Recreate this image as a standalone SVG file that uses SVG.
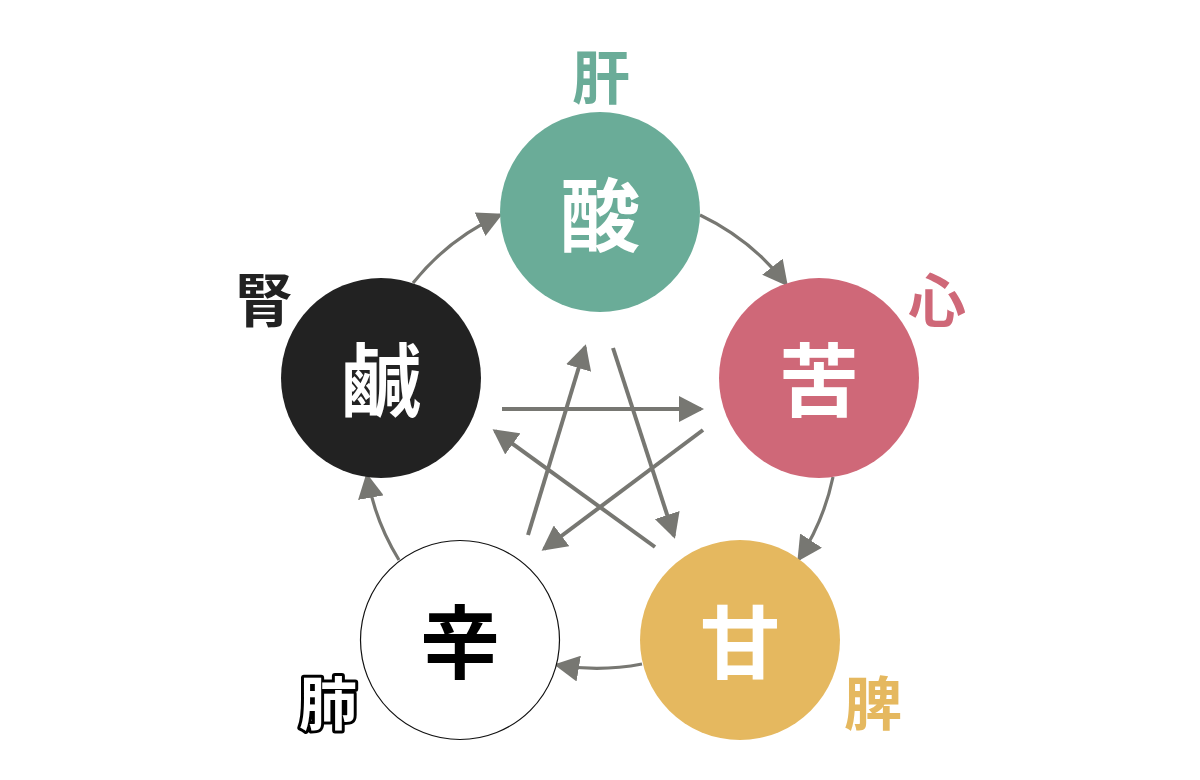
<svg xmlns="http://www.w3.org/2000/svg" width="1200" height="780" viewBox="0 0 1200 780">
  <style>
    .big { font-family: "Noto Sans CJK JP", "Noto Sans CJK SC", sans-serif; font-weight: 700; font-size: 80px; text-anchor: middle; dominant-baseline: central; }
    .lbl { font-family: "Noto Sans CJK JP", "Noto Sans CJK SC", sans-serif; font-weight: 700; font-size: 58px; text-anchor: middle; dominant-baseline: central; }
    .arc { fill: none; stroke: #777772; stroke-width: 3.2; marker-end: url(#ah); }
    .str { fill: none; stroke: #777772; stroke-width: 4; marker-end: url(#ah); }
  </style>
  <defs>
    <marker id="ah" markerUnits="userSpaceOnUse" markerWidth="26" markerHeight="26" viewBox="0 0 26 26" refX="22" refY="13" orient="auto">
      <polygon points="0,0 25,13 0,26" fill="#777772"/>
    </marker>
  </defs>
  <rect width="1200" height="780" fill="#ffffff"/>

  <g id="connectors">
    <path class="arc" d="M700,215 A240,240 0 0 1 786,284"/>
    <path class="arc" d="M833,477 A240,240 0 0 1 799,559"/>
    <path class="arc" d="M642,664 A240,240 0 0 1 557,665"/>
    <path class="arc" d="M399,560 A240,240 0 0 1 367,476"/>
    <path class="arc" d="M413,283 A240,240 0 0 1 500,215"/>
    <path class="str" d="M502,409 L701,409"/>
    <path class="str" d="M613,348 L674,536"/>
    <path class="str" d="M528,535 L585,347"/>
    <path class="str" d="M703,430 L544,549"/>
    <path class="str" d="M655,547 L495,431"/>
  </g>

  <g id="node-sour">
    <circle cx="600" cy="212" r="100" fill="#6aac98"/>
    <text class="big" x="600" y="210" fill="#ffffff">酸</text>
    <text class="lbl" x="601" y="74" fill="#6aac98">肝</text>
  </g>
  <g id="node-bitter">
    <circle cx="819" cy="378" r="100" fill="#cf6878"/>
    <text class="big" x="819" y="375" fill="#ffffff">苦</text>
    <text class="lbl" x="937" y="297" fill="#cf6878">心</text>
  </g>
  <g id="node-sweet">
    <circle cx="740" cy="640" r="100" fill="#e5b85f"/>
    <text class="big" x="740" y="637" fill="#ffffff">甘</text>
    <text class="lbl" x="873" y="700" fill="#e5b85f">脾</text>
  </g>
  <g id="node-pungent">
    <circle cx="460" cy="640" r="99.5" fill="#ffffff" stroke="#111111" stroke-width="1.2"/>
    <text class="big" x="460" y="637" fill="#000000">辛</text>
    <text class="lbl" x="328" y="700" fill="#ffffff" stroke="#000000" stroke-width="6" stroke-linejoin="round" paint-order="stroke">肺</text>
  </g>
  <g id="node-salty">
    <circle cx="381" cy="378" r="100" fill="#222222"/>
    <text class="big" x="381" y="375" fill="#ffffff">鹹</text>
    <text class="lbl" x="264" y="297" fill="#222222">腎</text>
  </g>
</svg>
